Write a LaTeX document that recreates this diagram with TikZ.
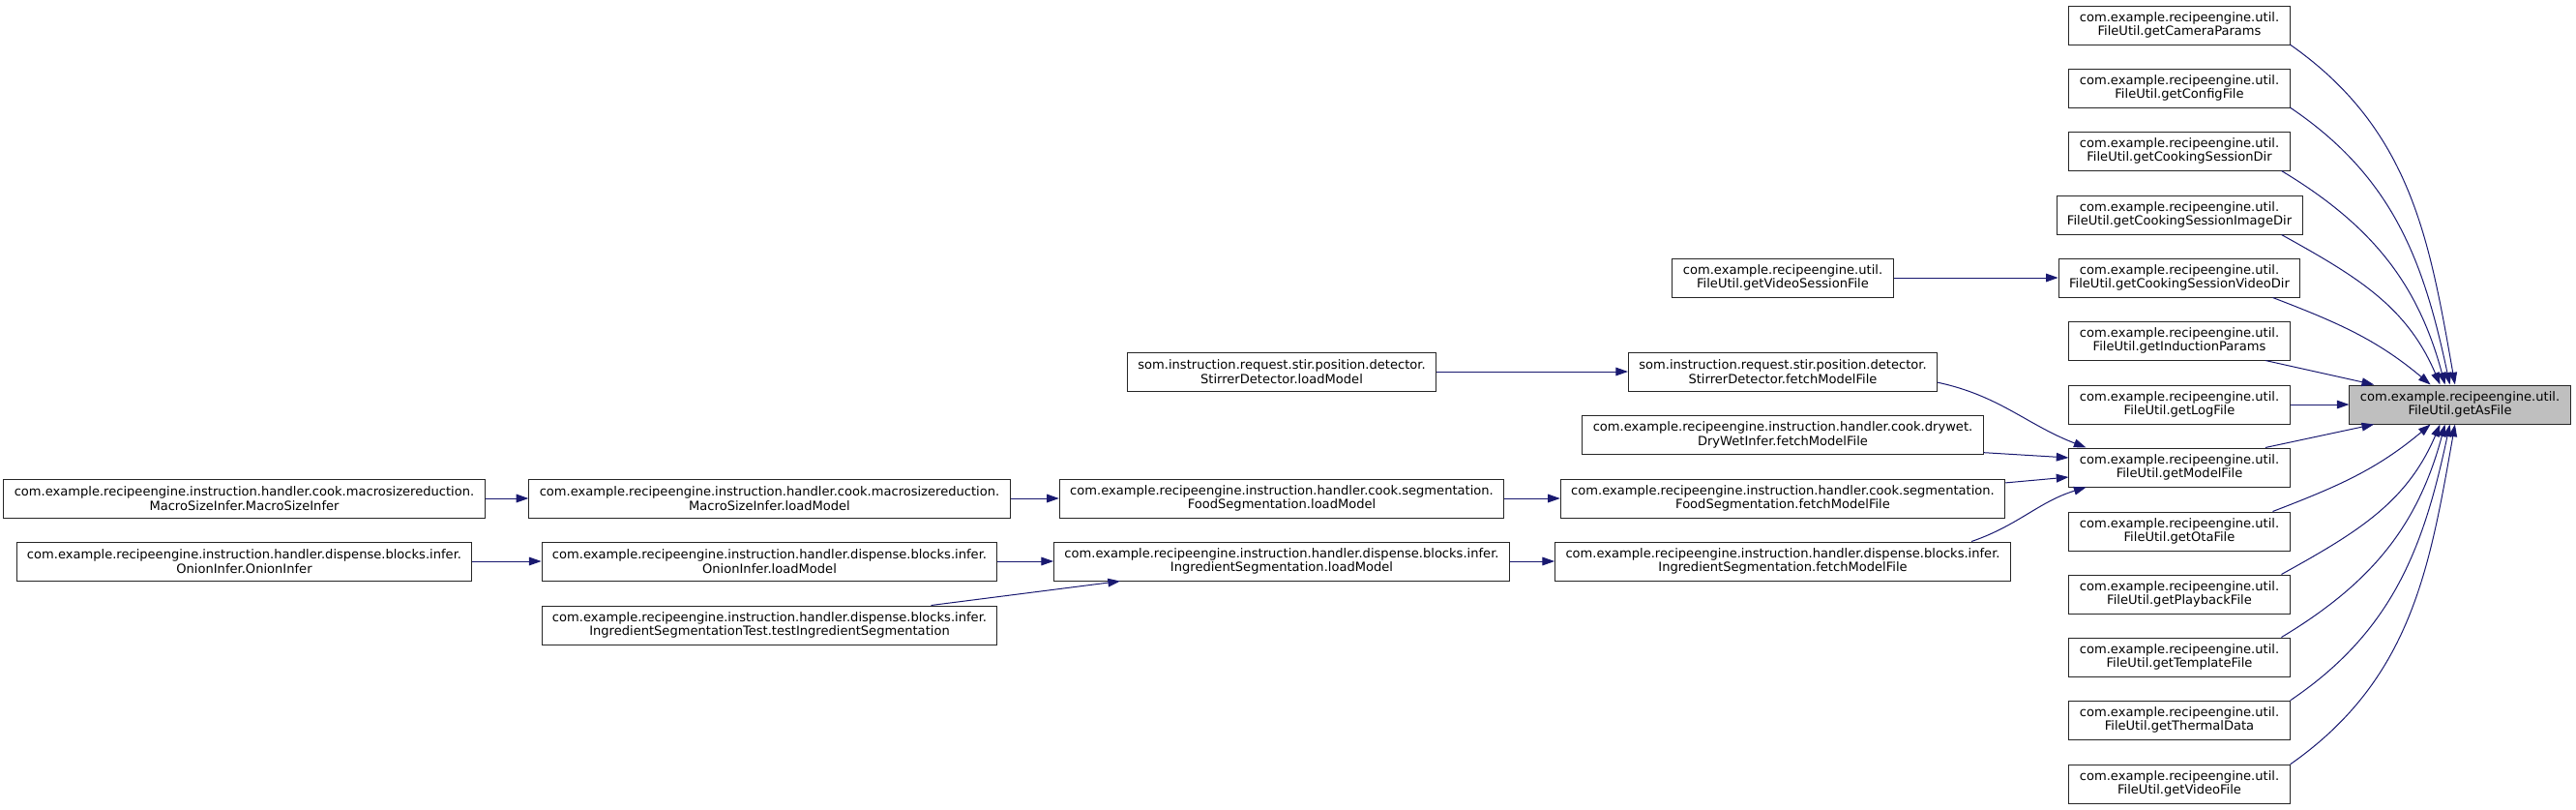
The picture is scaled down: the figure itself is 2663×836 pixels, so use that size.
\documentclass[tikz,border=0pt]{standalone}
\usepackage{fontspec}
\setmainfont{DejaVu Sans}
\usepackage{xcolor}
\usetikzlibrary{arrows.meta}
\definecolor{callblue}{HTML}{191970}
\definecolor{focusgray}{HTML}{BFBFBF}

\begin{document}
\begin{tikzpicture}
	[x=0.75pt, y=0.75pt, line width=0.75pt,
	func/.style = {
		draw=black!85, fill=white, align=center,
		inner xsep=8.2pt, inner ysep=0pt, minimum height=30pt,
		font=\fontsize{9.8}{10.9}\selectfont
	},
	focus/.style = {
		func, fill=focusgray
	},
	call/.style = {
		draw=callblue, -{Triangle[length=9.5pt, width=6.5pt]}
	}]
	\useasboundingbox (0,0) rectangle (2663,-836);

	%Draw nodes
	\node[focus] at (2543,-418) (asfile) {com.example.recipeengine.util.\\FileUtil.getAsFile};
	\node[func] at (2253,-26) (camparams) {com.example.recipeengine.util.\\FileUtil.getCameraParams};
	\node[func] at (2253,-91) (configfile) {com.example.recipeengine.util.\\FileUtil.getConfigFile};
	\node[func] at (2253,-156) (sessiondir) {com.example.recipeengine.util.\\FileUtil.getCookingSessionDir};
	\node[func] at (2253,-222) (imagedir) {com.example.recipeengine.util.\\FileUtil.getCookingSessionImageDir};
	\node[func] at (2253,-287) (videodir) {com.example.recipeengine.util.\\FileUtil.getCookingSessionVideoDir};
	\node[func] at (2253,-352) (inductionparams) {com.example.recipeengine.util.\\FileUtil.getInductionParams};
	\node[func] at (2253,-418) (logfile) {com.example.recipeengine.util.\\FileUtil.getLogFile};
	\node[func] at (2253,-483) (modelfile) {com.example.recipeengine.util.\\FileUtil.getModelFile};
	\node[func] at (2253,-549) (otafile) {com.example.recipeengine.util.\\FileUtil.getOtaFile};
	\node[func] at (2253,-614) (playbackfile) {com.example.recipeengine.util.\\FileUtil.getPlaybackFile};
	\node[func] at (2253,-679) (templatefile) {com.example.recipeengine.util.\\FileUtil.getTemplateFile};
	\node[func] at (2253,-744) (thermaldata) {com.example.recipeengine.util.\\FileUtil.getThermalData};
	\node[func] at (2253,-810) (videofile) {com.example.recipeengine.util.\\FileUtil.getVideoFile};

	\node[func] at (1843,-287) (videosession) {com.example.recipeengine.util.\\FileUtil.getVideoSessionFile};
	\node[func] at (1843,-384) (sdfetch) {som.instruction.request.stir.position.detector.\\StirrerDetector.fetchModelFile};
	\node[func] at (1843,-449.5) (drywetfetch) {com.example.recipeengine.instruction.handler.cook.drywet.\\DryWetInfer.fetchModelFile};
	\node[func] at (1843,-515) (foodfetch) {com.example.recipeengine.instruction.handler.cook.segmentation.\\FoodSegmentation.fetchModelFile};
	\node[func] at (1843,-580) (ingfetch) {com.example.recipeengine.instruction.handler.dispense.blocks.infer.\\IngredientSegmentation.fetchModelFile};

	\node[func] at (1325,-384) (sdload) {som.instruction.request.stir.position.detector.\\StirrerDetector.loadModel};
	\node[func] at (1325,-515) (foodload) {com.example.recipeengine.instruction.handler.cook.segmentation.\\FoodSegmentation.loadModel};
	\node[func] at (1325,-580) (ingload) {com.example.recipeengine.instruction.handler.dispense.blocks.infer.\\IngredientSegmentation.loadModel};

	\node[func] at (795.5,-515) (macroload) {com.example.recipeengine.instruction.handler.cook.macrosizereduction.\\MacroSizeInfer.loadModel};
	\node[func] at (795.5,-580) (onionload) {com.example.recipeengine.instruction.handler.dispense.blocks.infer.\\OnionInfer.loadModel};
	\node[func] at (795.5,-646) (ingtest) {com.example.recipeengine.instruction.handler.dispense.blocks.infer.\\IngredientSegmentationTest.testIngredientSegmentation};

	\node[func] at (252.5,-515) (macroinfer) {com.example.recipeengine.instruction.handler.cook.macrosizereduction.\\MacroSizeInfer.MacroSizeInfer};
	\node[func] at (252.5,-580) (onioninfer) {com.example.recipeengine.instruction.handler.dispense.blocks.infer.\\OnionInfer.OnionInfer};

	%Draw calls
	\draw[call] (camparams.-10) to[out=-35, in=100] (asfile.104);
	\draw[call] (configfile.-10) to[out=-34, in=102] (asfile.117);
	\draw[call] (sessiondir.-11) to[out=-31, in=105] (asfile.127);
	\draw[call] (imagedir.-11) to[out=-29, in=113] (asfile.135);
	\draw[call] (videodir.-12) to[out=-21, in=140] (asfile.146);
	\draw[call] (inductionparams.-13) -- (asfile.167);
	\draw[call] (logfile) -- (asfile);
	\draw[call] (modelfile.13) -- (asfile.193);
	\draw[call] (otafile.12) to[out=21, in=-140] (asfile.-146);
	\draw[call] (playbackfile.11) to[out=29, in=-113] (asfile.-135);
	\draw[call] (templatefile.11) to[out=31, in=-105] (asfile.-127);
	\draw[call] (thermaldata.10) to[out=34, in=-102] (asfile.-117);
	\draw[call] (videofile.10) to[out=35, in=-100] (asfile.-104);

	\draw[call] (videosession) -- (videodir);
	\draw[call] (sdfetch.-4) to[out=-12, in=159] (modelfile.168);
	\draw[call] (drywetfetch.-5) -- (modelfile.175);
	\draw[call] (foodfetch.4) -- (modelfile.185);
	\draw[call] (ingfetch.6) to[out=19, in=-163] (modelfile.192);

	\draw[call] (sdload) -- (sdfetch);
	\draw[call] (foodload) -- (foodfetch);
	\draw[call] (ingload) -- (ingfetch);
	\draw[call] (macroload) -- (foodload);
	\draw[call] (onionload) -- (ingload);
	\draw[call] (ingtest.7) -- (ingload.187);
	\draw[call] (macroinfer) -- (macroload);
	\draw[call] (onioninfer) -- (onionload);
\end{tikzpicture}
\end{document}
